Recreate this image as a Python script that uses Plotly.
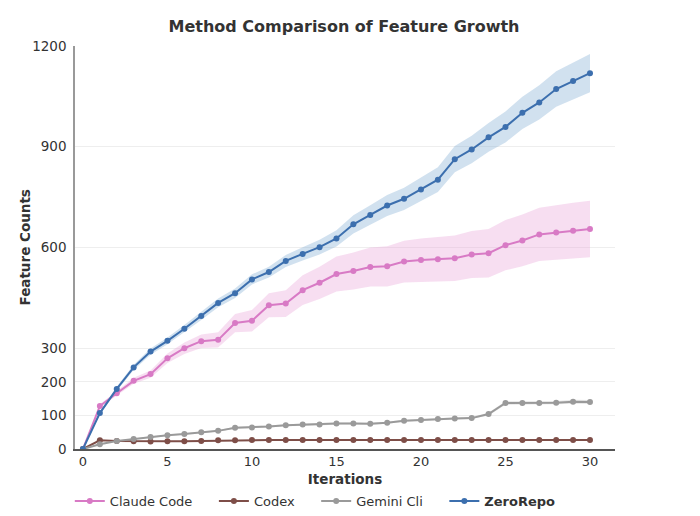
import plotly.graph_objects as go

iterations = list(range(31))

zerorepo = [0, 107, 179, 243, 290, 322, 358, 396, 435, 464, 505, 527, 560, 581, 601, 627,
            669, 697, 725, 745, 773, 802, 863, 892, 928, 959, 1001, 1032, 1072, 1096, 1119]
zerorepo_std = [0, 4, 6, 8, 9, 10, 11, 12, 13, 14, 15, 16, 18, 20, 22, 24,
                27, 29, 31, 33, 35, 37, 39, 41, 43, 46, 48, 51, 53, 55, 57]

claude = [0, 128, 166, 203, 223, 270, 300, 321, 325, 375, 382, 428, 433, 473, 495, 521,
          530, 542, 544, 558, 563, 565, 568, 579, 583, 607, 621, 639, 645, 650, 655]
claude_std = [0, 5, 7, 9, 11, 14, 17, 20, 23, 27, 32, 36, 40, 44, 48, 52,
              55, 58, 60, 62, 64, 66, 68, 70, 72, 75, 77, 79, 81, 83, 84]

codex = [0, 26, 24, 23, 22, 23, 23, 24, 26, 26, 27, 27, 27, 27, 27, 27,
         27, 27, 27, 27, 27, 27, 27, 27, 27, 27, 27, 27, 27, 27, 27]
codex_std = [0, 1, 1, 1, 1, 1, 1, 1, 1, 1, 1, 1, 1, 1, 1, 1,
             1, 1, 1, 1, 1, 1, 1, 1, 1, 1, 1, 1, 1, 1, 1]

gemini = [0, 14, 24, 30, 36, 41, 45, 50, 54, 63, 64, 67, 71, 73, 73, 76,
          76, 75, 78, 84, 86, 89, 91, 92, 104, 137, 137, 137, 138, 141, 140]
gemini_std = [0, 1, 1, 2, 2, 2, 2, 2, 2, 3, 3, 3, 3, 3, 3, 3,
              3, 3, 3, 3, 3, 3, 3, 3, 4, 5, 5, 5, 5, 6, 6]

y_ticks = [0, 100, 200, 300, 600, 900, 1200]
x_ticks = [0, 5, 10, 15, 20, 25, 30]

series_names = ["Claude Code", "Codex", "Gemini Cli", "<b>ZeroRepo</b>"]
pad = "&nbsp;" * 4

series = [
    (series_names[0] + pad, claude, claude_std, "#d87ac5", "rgba(232,160,214,0.35)"),
    (series_names[1] + pad, codex, codex_std, "#7e4e48", "rgba(126,78,72,0.15)"),
    (series_names[2] + pad, gemini, gemini_std, "#9a9a9a", "rgba(160,160,160,0.25)"),
    (series_names[3], zerorepo, zerorepo_std, "#3c6fae", "rgba(122,170,210,0.35)"),
]

fig = go.Figure()

for name, vals, std, color, fill in series:
    upper = [v + s for v, s in zip(vals, std)]
    lower = [v - s for v, s in zip(vals, std)]
    fig.add_trace(go.Scatter(
        x=iterations + iterations[::-1],
        y=upper + lower[::-1],
        fill="toself", fillcolor=fill, line=dict(width=0),
        mode="lines", hoverinfo="skip", showlegend=False,
    ))

for name, vals, std, color, fill in series:
    fig.add_trace(go.Scatter(
        x=iterations, y=vals, name=name, mode="lines+markers",
        line=dict(color=color, width=2),
        marker=dict(color=color, size=6),
    ))

fig.add_annotation(
    text="<b>Feature Counts</b>", xref="paper", yref="paper",
    x=-0.0944, y=0.5, xanchor="center", yanchor="middle",
    textangle=-90, showarrow=False, font=dict(size=13.5, color="#333333"),
)

fig.update_layout(
    width=700, height=516,
    margin=dict(l=67, r=93, t=38, b=75, autoexpand=False),
    paper_bgcolor="white", plot_bgcolor="white",
    font=dict(family="DejaVu Sans", size=12, color="#333333"),
    title=dict(text="<b>Method Comparison of Feature Growth</b>",
               x=0.48, xanchor="center", y=0.964, yanchor="middle",
               font=dict(size=16, color="#333333")),
    legend=dict(orientation="h", x=0.445, xanchor="center", y=-0.129, yanchor="middle",
                font=dict(size=13, color="#333333"), itemwidth=30,
                bgcolor="rgba(0,0,0,0)"),
    xaxis=dict(
        range=[-0.47, 31.48], tickvals=x_ticks, showgrid=False, automargin=False,
        showline=True, linecolor="#555555", linewidth=1.5,
        ticks="", zeroline=False, tickfont=dict(size=13),
        title=dict(text="<b>Iterations</b>", font=dict(size=13.5), standoff=6),
    ),
    yaxis=dict(
        range=[0, 1200], tickvals=y_ticks, showgrid=True, gridcolor="#eeeeee",
        showline=True, linecolor="#999999", linewidth=1.5, automargin=False,
        ticks="", zeroline=False, tickfont=dict(size=13.5), ticklabelstandoff=4,
    ),
)

fig.write_html("out.html")
